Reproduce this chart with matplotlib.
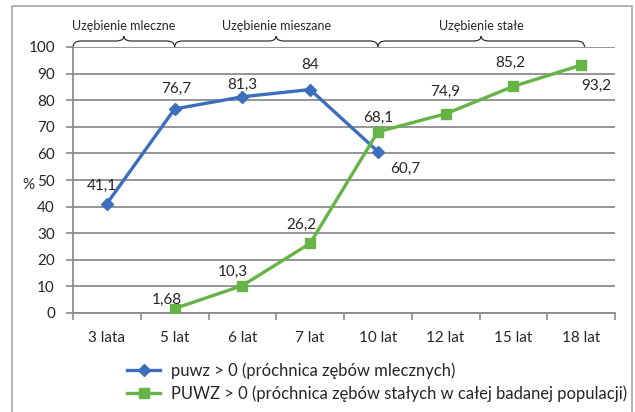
import matplotlib
matplotlib.use("Agg")
import matplotlib.pyplot as plt
from matplotlib.path import Path
from matplotlib.patches import PathPatch, Rectangle

plt.rcParams['font.family'] = ['Lato', 'DejaVu Sans']

categories = ["3 lata", "5 lat", "6 lat", "7 lat", "10 lat", "12 lat", "15 lat", "18 lat"]
puwz_values = [41.1, 76.7, 81.3, 84, 60.7, None, None, None]
PUWZ_values = [None, 1.68, 10.3, 26.2, 68.1, 74.9, 85.2, 93.2]
puwz_labels = ["41,1", "76,7", "81,3", "84", "60,7"]
PUWZ_labels = ["1,68", "10,3", "26,2", "68,1", "74,9", "85,2", "93,2"]
series_names = ["puwz > 0 (próchnica zębów mlecznych)",
                "PUWZ > 0 (próchnica zębów stałych w całej badanej populacji)"]
brace_names = ["Uzębienie mleczne", "Uzębienie mieszane", "Uzębienie stałe"]
y_ticks = [0, 10, 20, 30, 40, 50, 60, 70, 80, 90, 100]

# label offsets in pixels (dx, dy) - layout only
puwz_off = [(-5, 18), (2, 20), (0, 12), (0, 25), (27, -17)]
PUWZ_off = [(-8, 9), (-10, 14), (-9, 18), (0, 14), (0, 22), (-3, 23), (15, -21)]
# brace spans in category-axis units (layout)
brace_spans = [(-0.5, 1.0), (1.0, 4.0), (4.0, 7.05)]

BLUE = '#3C6EBD'
GREEN = '#66B446'
GRID = '#8C8C8C'
TXT = '#262626'
FS = 11

fig = plt.figure(figsize=(6.35, 4.12), dpi=100)
W, H = 635, 412
ax = fig.add_axes([73 / W, (H - 313) / H, (615 - 73) / W, (313 - 47) / H])

# outer frame
fig.patches.append(Rectangle((12 / W, -0.01), (632 - 12) / W, (406 + 0.01 * H) / H,
                             transform=fig.transFigure, fill=False,
                             edgecolor='#A6A6A6', linewidth=1.2))

x = list(range(len(categories)))
bx = [i for i, v in zip(x, puwz_values) if v is not None]
by = [v for v in puwz_values if v is not None]
gx = [i for i, v in zip(x, PUWZ_values) if v is not None]
gy = [v for v in PUWZ_values if v is not None]

l1, = ax.plot(bx, by, color=BLUE, lw=2.4, marker='D', markersize=6.5, zorder=3,
              label=series_names[0])
l2, = ax.plot(gx, gy, color=GREEN, lw=2.4, marker='s', markersize=6.5, zorder=3,
              label=series_names[1])

for xi, yi, t, o in zip(bx, by, puwz_labels, puwz_off):
    ax.annotate(t, (xi, yi), xytext=o, textcoords='offset pixels', ha='center',
                va='center', fontsize=FS, color=TXT, zorder=4)
for xi, yi, t, o in zip(gx, gy, PUWZ_labels, PUWZ_off):
    ax.annotate(t, (xi, yi), xytext=o, textcoords='offset pixels', ha='center',
                va='center', fontsize=FS, color=TXT, zorder=4)

ax.set_xlim(-0.5, len(categories) - 0.5)
ax.set_ylim(0, 100)
ax.set_yticks(y_ticks)
ax.set_yticklabels([str(v) for v in y_ticks])
ax.set_xticks(x)
ax.set_xticklabels(categories)
ax.set_xticks([i - 0.5 for i in range(len(categories) + 1)], minor=True)
ax.tick_params(axis='x', which='major', length=0, pad=13, labelsize=FS, labelcolor=TXT)
ax.tick_params(axis='x', which='minor', length=5, width=1.2, color=GRID, direction='out')
ax.tick_params(axis='y', length=5, width=1.2, color=GRID, pad=8, labelsize=FS, labelcolor=TXT)
ax.yaxis.grid(True, color=GRID, lw=1.3)
ax.set_axisbelow(True)
for s in ['top', 'right']:
    ax.spines[s].set_visible(False)
for s in ['left', 'bottom']:
    ax.spines[s].set_color(GRID)
    ax.spines[s].set_linewidth(1.3)

fig.text(28 / W, 1 - 185 / H, '%', fontsize=FS, color=TXT, ha='center', va='center')

# braces
pxu = 266 / 100.0  # pixels per data unit in y
y_end = 100.0
y_body = 100 + 6 / pxu
y_cusp = 100 + 11 / pxu
r = 8 / 67.9
for (x0, x1), name in zip(brace_spans, brace_names):
    xm = (x0 + x1) / 2
    verts = [(x0, y_end), (x0, y_body), (x0 + r, y_body),
             (xm - r, y_body),
             (xm, y_body), (xm, y_cusp),
             (xm, y_body), (xm + r, y_body),
             (x1 - r, y_body),
             (x1, y_body), (x1, y_end)]
    codes = [Path.MOVETO, Path.CURVE3, Path.CURVE3,
             Path.LINETO,
             Path.CURVE3, Path.CURVE3,
             Path.CURVE3, Path.CURVE3,
             Path.LINETO,
             Path.CURVE3, Path.CURVE3]
    ax.add_patch(PathPatch(Path(verts, codes), fill=False, edgecolor='#333333',
                           lw=0.9, clip_on=False))
    ax.text(xm, 100 + 21 / pxu, name, ha='center', va='center', fontsize=9,
            color=TXT, clip_on=False)

fig.legend(handles=[l1, l2], loc='upper left', bbox_to_anchor=(127 / W, 1 - 362 / H),
           frameon=False, fontsize=11.9, handlelength=2.0, handletextpad=0.65,
           labelspacing=0.4, borderpad=0, borderaxespad=0, labelcolor=TXT)

fig.savefig('out.png', dpi=100)
